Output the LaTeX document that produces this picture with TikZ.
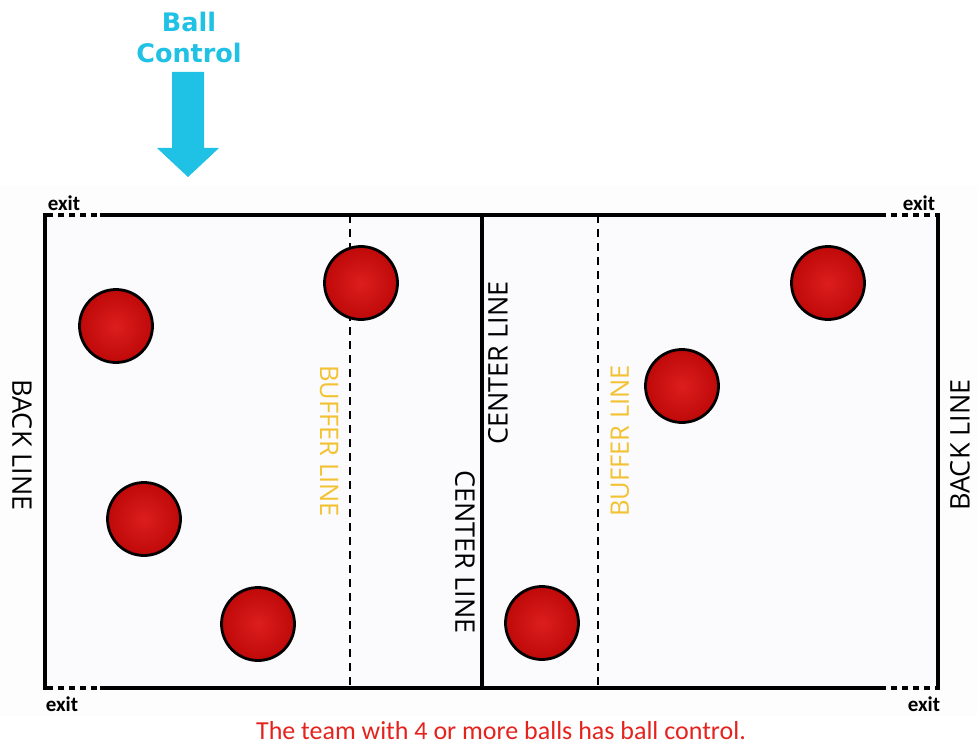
\documentclass[tikz,border=0pt]{standalone}
\usepackage{fontspec}
\setmainfont{Carlito}
\newfontfamily\courtfont{Open Sans}
\newfontfamily\titlefont{DejaVu Sans}
\usepackage{tikz}
\definecolor{ballcyan}{HTML}{1FC1E5}
\definecolor{buffergold}{HTML}{F3C232}
\definecolor{captionred}{HTML}{E5231E}
\definecolor{ballred}{HTML}{D90A0A}
\definecolor{courtbg}{HTML}{FBFAFC}
\tikzset{
    ball/.style={shape=circle, minimum size=73pt, inner sep=0pt, draw=black, line width=2.8pt,
        inner color=ballred!92!white, outer color=ballred!88!black},
    exitlabel/.style={font=\bfseries\fontsize{21}{21}\selectfont, inner sep=0pt},
    sidelabel/.style={font=\courtfont\fontsize{27}{27}\selectfont, inner sep=0pt},
    bufferlabel/.style={font=\courtfont\fontsize{25.5}{25.5}\selectfont, text=buffergold, inner sep=0pt}}

\begin{document}
\begin{tikzpicture}[x=1pt, y=-1pt]
        \useasboundingbox[fill=white] (0,0) rectangle (977,746);
        \fill[courtbg!30!white] (0,186) rectangle (977,716);
        \fill[courtbg] (45,215) rectangle (938,688);

                    % court outline
                    \draw[line width=3.5pt] (100,215) -- (880,215);
                    \draw[line width=3.5pt] (100,688) -- (880,688);
                    \draw[line width=3.5pt, dash pattern=on 6pt off 5pt] (47,215) -- (100,215);
                    \draw[line width=3.5pt, dash pattern=on 6pt off 5pt] (47,688) -- (100,688);
                    \draw[line width=3.5pt, dash pattern=on 6pt off 5pt] (880,215) -- (936,215);
                    \draw[line width=3.5pt, dash pattern=on 6pt off 5pt] (880,688) -- (936,688);
                    \draw[line width=3.5pt] (45,213) -- (45,690);
                    \draw[line width=3.5pt] (938,213) -- (938,690);
                    \draw[line width=4.5pt] (482,215) -- (482,688);
                    \draw[line width=1.5pt, dash pattern=on 8pt off 6pt] (350,215) -- (350,688);
                    \draw[line width=1.5pt, dash pattern=on 8pt off 6pt] (598,215) -- (598,688);

                    \node[exitlabel] (exitA) at (64,203) {exit};
                    \node[exitlabel] (exitB) at (919,203) {exit};
                    \node[exitlabel] (exitC) at (62,704) {exit};
                    \node[exitlabel] (exitD) at (924,704) {exit};

                    \node[sidelabel, rotate=-90] (backL) at (22,445) {BACK LINE};
                    \node[sidelabel, rotate=90] (backR) at (960,445) {BACK LINE};
                    \node[sidelabel, rotate=90] (centerA) at (498,363) {CENTER LINE};
                    \node[sidelabel, rotate=-90] (centerB) at (465,552) {CENTER LINE};
                    \node[bufferlabel, rotate=-90] (bufferL) at (329,441) {BUFFER LINE};
                    \node[bufferlabel, rotate=90] (bufferR) at (620,441) {BUFFER LINE};

                    \foreach \bx/\by [count=\i] in {116/326, 361/283, 144/519, 258/624, 542/623, 682/386, 828/283}
                        \node[ball] (ball\i) at (\bx,\by) {};

                    % ball control arrow
                    \node[font=\titlefont\bfseries\fontsize{25.5}{31}\selectfont, text=ballcyan, align=center, inner sep=0pt] (title) at (189,37) {Ball\\Control};
                    \fill[ballcyan] (172,72) -- (204,72) -- (204,148) -- (219,148) -- (188,177) -- (157,148) -- (172,148) -- cycle;

                    \node[text=captionred, font=\fontsize{26}{27}\selectfont, inner sep=0pt] (caption) at (501,731) {The team with 4 or more balls has ball control.};

                \end{tikzpicture}
\end{document}
